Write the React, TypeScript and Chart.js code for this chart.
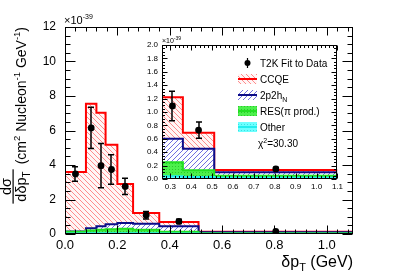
import React, { useEffect, useRef } from "react";
import { Chart, registerables } from "chart.js";

Chart.register(...registerables);

// ---------------- data (units of 1e-39 cm^2 / nucleon / GeV) ----------------
const binEdges = [0, 0.08, 0.12, 0.155, 0.2, 0.26, 0.36, 0.51, 1.1];
// stacked histogram levels as drawn (top of each component)
const ccqeTop = [3.6, 7.55, 7.03, 5.18, 2.9, 1.22, 0.69, 0.135];
const twoP2hTop = [0.15, 0.33, 0.45, 0.57, 0.64, 0.6, 0.45, 0.1];
const resTop = [0.13, 0.2, 0.24, 0.28, 0.3, 0.25, 0.13, 0.05];
const otherTop = [0.03, 0.04, 0.05, 0.05, 0.05, 0.04, 0.03, 0.02];

const dataX = [0.04, 0.1, 0.1375, 0.1775, 0.23, 0.31, 0.435, 0.805];
const dataY = [3.48, 6.15, 3.96, 3.74, 2.76, 1.09, 0.73, 0.15];
const dataErr = [0.42, 1.2, 1.28, 0.86, 0.47, 0.22, 0.12, 0.02];

const mainXTicks = [0, 0.2, 0.4, 0.6, 0.8, 1.0];
const mainYTicks = [0, 2, 4, 6, 8, 10, 12];
const insetXTicks = [0.3, 0.4, 0.5, 0.6, 0.7, 0.8, 0.9, 1.0, 1.1];
const insetYTicks = [0, 0.2, 0.4, 0.6, 0.8, 1.0, 1.2, 1.4, 1.6, 1.8, 2.0];

const legendLabels = ["T2K Fit to Data", "CCQE", "2p2h", "RES(\u03c0 prod.)", "Other"];
const chi2Value = "30.30";

const FONT = "'Liberation Sans', Arial, Helvetica, sans-serif";

// ---------------- helpers ----------------
function histPoints(levels: number[]) {
  return binEdges.map((e, i) => ({ x: e, y: levels[Math.min(i, levels.length - 1)] }));
}

function hatchPattern(bg: string, fg: string, dir: number, size: number, lw: number) {
  const c = document.createElement("canvas");
  c.width = size;
  c.height = size;
  const g = c.getContext("2d")!;
  g.fillStyle = bg;
  g.fillRect(0, 0, size, size);
  g.strokeStyle = fg;
  g.lineWidth = lw;
  g.beginPath();
  for (const o of [-size, 0, size]) {
    if (dir > 0) {
      g.moveTo(o, size);
      g.lineTo(o + size, 0);
    } else {
      g.moveTo(o, 0);
      g.lineTo(o + size, size);
    }
  }
  g.stroke();
  return g.createPattern(c, "repeat")!;
}

function dotPattern(bg: string, fg: string) {
  const c = document.createElement("canvas");
  c.width = 3;
  c.height = 3;
  const g = c.getContext("2d")!;
  g.fillStyle = bg;
  g.fillRect(0, 0, 3, 3);
  g.fillStyle = fg;
  g.fillRect(0, 0, 1, 1);
  return g.createPattern(c, "repeat")!;
}

type Styles = {
  redFill: CanvasPattern;
  blueFill: CanvasPattern;
  greenFill: CanvasPattern;
  cyanFill: CanvasPattern;
};

const RED = "#ff0000";
const BLUE = "#0c0c88";
const GREEN = "#22e022";
const CYAN = "#22eeee";

function makeStyles(): Styles {
  return {
    redFill: hatchPattern("#fff6f6", "#ff8c8c", -1, 5, 1),
    blueFill: hatchPattern("#ffffff", "#7070e0", 1, 5, 1),
    greenFill: dotPattern("#4cf04c", "#2cc82c"),
    cyanFill: dotPattern("#6cffff", "#3ce0e0"),
  };
}

function datasets(st: Styles) {
  const hist = (levels: number[], color: string, fill: any) => ({
    type: "scatter" as const,
    data: histPoints(levels),
    showLine: true,
    stepped: true,
    borderColor: color,
    borderWidth: 2,
    backgroundColor: fill,
    fill: "origin",
    pointRadius: 0,
    clip: 0,
  });
  return [
    {
      type: "scatter" as const,
      data: dataX.map((x, i) => ({ x, y: dataY[i] })),
      pointRadius: 3.4,
      pointBackgroundColor: "#000",
      pointBorderColor: "#000",
      pointBorderWidth: 0,
      showLine: false,
      clip: 0,
    },
    hist(otherTop, CYAN, st.cyanFill),
    hist(resTop, GREEN, st.greenFill),
    hist(twoP2hTop, BLUE, st.blueFill),
    hist(ccqeTop, RED, st.redFill),
  ];
}

type FrameCfg = {
  xMajor: number;
  xMinor: number;
  yMajor: number;
  yMinor: number;
  xMajLen: number;
  xMinLen: number;
  yMajLen: number;
  yMinLen: number;
  cap: number;
};

function isMult(v: number, step: number) {
  const r = v / step;
  return Math.abs(r - Math.round(r)) < 1e-6;
}

function framePlugin(cfg: FrameCfg) {
  return {
    id: "rootFrame",
    afterDatasetsDraw(chart: any) {
      const { ctx, chartArea: a } = chart;
      const xs = chart.scales.x;
      const ys = chart.scales.y;
      // error bars
      ctx.save();
      ctx.beginPath();
      ctx.rect(a.left, a.top, a.right - a.left, a.bottom - a.top);
      ctx.clip();
      ctx.strokeStyle = "#000";
      ctx.lineWidth = 1.5;
      ctx.beginPath();
      dataX.forEach((x, i) => {
        const px = Math.round(xs.getPixelForValue(x));
        const y1 = ys.getPixelForValue(dataY[i] + dataErr[i]);
        const y2 = ys.getPixelForValue(dataY[i] - dataErr[i]);
        ctx.moveTo(px, y1);
        ctx.lineTo(px, y2);
        ctx.moveTo(px - cfg.cap, y1);
        ctx.lineTo(px + cfg.cap, y1);
        ctx.moveTo(px - cfg.cap, y2);
        ctx.lineTo(px + cfg.cap, y2);
      });
      ctx.stroke();
      ctx.restore();
    },
    afterDraw(chart: any) {
      const { ctx, chartArea: a } = chart;
      const xs = chart.scales.x;
      const ys = chart.scales.y;
      ctx.save();
      ctx.strokeStyle = "#000";
      ctx.lineWidth = 1;
      const L = Math.round(a.left) + 0.5;
      const R = Math.round(a.right) - 0.5;
      const T = Math.round(a.top) + 0.5;
      const B = Math.round(a.bottom) - 0.5;
      ctx.strokeRect(L, T, R - L, B - T);
      ctx.beginPath();
      const x0 = Math.ceil(xs.min / cfg.xMinor - 1e-6) * cfg.xMinor;
      for (let v = x0; v <= xs.max + 1e-9; v += cfg.xMinor) {
        const px = Math.round(xs.getPixelForValue(v)) + 0.5;
        const len = isMult(v, cfg.xMajor) ? cfg.xMajLen : cfg.xMinLen;
        ctx.moveTo(px, B);
        ctx.lineTo(px, B - len);
        ctx.moveTo(px, T);
        ctx.lineTo(px, T + len);
      }
      const y0 = Math.ceil(ys.min / cfg.yMinor - 1e-6) * cfg.yMinor;
      for (let v = y0; v <= ys.max + 1e-9; v += cfg.yMinor) {
        const py = Math.round(ys.getPixelForValue(v)) + 0.5;
        const len = isMult(v, cfg.yMajor) ? cfg.yMajLen : cfg.yMinLen;
        ctx.moveTo(L, py);
        ctx.lineTo(L + len, py);
        ctx.moveTo(R, py);
        ctx.lineTo(R - len, py);
      }
      ctx.stroke();
      ctx.restore();
    },
  };
}

// draws a run of text pieces; each piece: [text, size, dy]
function drawRun(ctx: CanvasRenderingContext2D, pieces: [string, number, number][], x: number, y: number) {
  let cx = x;
  for (const [t, s, dy] of pieces) {
    ctx.font = `${s}px ${FONT}`;
    ctx.fillText(t, cx, y + dy);
    cx += ctx.measureText(t).width;
  }
  return cx;
}
function runWidth(ctx: CanvasRenderingContext2D, pieces: [string, number, number][]) {
  let w = 0;
  for (const [t, s] of pieces) {
    ctx.font = `${s}px ${FONT}`;
    w += ctx.measureText(t).width;
  }
  return w;
}

const mainTextPlugin = {
  id: "mainText",
  afterDraw(chart: any) {
    const { ctx, chartArea: a } = chart;
    ctx.save();
    ctx.fillStyle = "#000";
    ctx.textBaseline = "alphabetic";
    ctx.textAlign = "left";
    // exponent label
    drawRun(ctx, [["\u00d710", 11, 0], ["-39", 7, -5]], a.left - 1, 24);
    // x title, right-aligned
    const xt: [string, number, number][] = [["\u03b4p", 16, 0], ["T", 11, 4], [" (GeV)", 16, 0]];
    const xw = runWidth(ctx, xt);
    drawRun(ctx, xt, a.right - xw, 267);
    // y title (rotated), right-aligned to the top of the frame
    const ffs = 14.5;
    const fs = 14;
    const den: [string, number, number][] = [["d\u03b4p", ffs, 0], ["T", 10, 4]];
    const num: [string, number, number][] = [["d\u03c3", ffs, 0]];
    const rest: [string, number, number][] = [
      ["(cm", fs, 0],
      ["2", 9.5, -6],
      [" Nucleon", fs, 0],
      ["-1", 9.5, -6],
      [" GeV", fs, 0],
      ["-1", 9.5, -6],
      [")", fs, 0],
    ];
    const dw = runWidth(ctx, den);
    const nw = runWidth(ctx, num);
    const fw = Math.max(dw, nw) + 4;
    const gap = 5;
    const total = fw + gap + runWidth(ctx, rest);
    ctx.translate(26, a.top + total);
    ctx.rotate(-Math.PI / 2);
    drawRun(ctx, den, (fw - dw) / 2, 0);
    drawRun(ctx, num, (fw - nw) / 2, -15);
    ctx.fillRect(0, -13.5, fw, 1.2);
    drawRun(ctx, rest, fw + gap, 0);
    ctx.restore();
  },
};

const insetTextPlugin = (st: Styles) => ({
  id: "insetText",
  afterDraw(chart: any) {
    const { ctx, chartArea: a } = chart;
    const ox = -130;
    const oy = -28;
    ctx.save();
    ctx.fillStyle = "#000";
    ctx.textBaseline = "alphabetic";
    ctx.textAlign = "left";
    drawRun(ctx, [["\u00d710", 7, 0], ["-39", 5, -3]], a.left, a.top - 2);
    // legend
    const bx = 238 + ox;
    const bw = 19;
    const tx = 260 + ox;
    const rows = [63, 79, 95, 111, 127, 143].map((r) => r + oy);
    // row 0: data marker
    ctx.strokeStyle = "#000";
    ctx.lineWidth = 1.2;
    ctx.beginPath();
    ctx.moveTo(bx + bw / 2, rows[0] - 5);
    ctx.lineTo(bx + bw / 2, rows[0] + 5);
    ctx.stroke();
    ctx.beginPath();
    ctx.arc(bx + bw / 2, rows[0], 3, 0, Math.PI * 2);
    ctx.fill();
    const boxes: [CanvasPattern, string][] = [
      [st.redFill, RED],
      [st.blueFill, BLUE],
      [st.greenFill, GREEN],
      [st.cyanFill, CYAN],
    ];
    boxes.forEach(([fill, col], i) => {
      const cy = rows[i + 1];
      ctx.fillStyle = fill;
      ctx.fillRect(bx, cy - 5, bw, 10);
      ctx.strokeStyle = col;
      ctx.lineWidth = 2;
      ctx.beginPath();
      ctx.moveTo(bx, cy);
      ctx.lineTo(bx + bw, cy);
      ctx.stroke();
    });
    ctx.fillStyle = "#000";
    const base = (r: number) => r + 3.5;
    drawRun(ctx, [[legendLabels[0], 10, 0]], tx, base(rows[0]));
    drawRun(ctx, [[legendLabels[1], 10, 0]], tx, base(rows[1]));
    drawRun(ctx, [[legendLabels[2], 10, 0], ["N", 7, 3]], tx, base(rows[2]));
    drawRun(ctx, [[legendLabels[3], 10, 0]], tx, base(rows[3]));
    drawRun(ctx, [[legendLabels[4], 10, 0]], tx, base(rows[4]));
    drawRun(ctx, [["\u03c7", 10, 0], ["2", 7, -4], ["=" + chi2Value, 10, 0]], 258 + ox, base(rows[5]));
    ctx.restore();
  },
});

function axisOpts(ticks: number[], min: number, max: number, size: number, pad: number, fmt: (v: number) => string, fit: (s: any) => void) {
  return {
    type: "linear" as const,
    min,
    max,
    grid: { display: false, drawTicks: false },
    border: { display: false },
    afterBuildTicks: (s: any) => {
      s.ticks = ticks.map((v) => ({ value: v }));
    },
    afterFit: fit,
    ticks: {
      autoSkip: false,
      maxRotation: 0,
      padding: pad,
      color: "#000",
      font: { family: FONT, size },
      callback: (v: any) => fmt(Number(v)),
    },
  };
}

export default function App() {
  const mainRef = useRef<HTMLCanvasElement>(null);
  const insetRef = useRef<HTMLCanvasElement>(null);

  useEffect(() => {
    const st = makeStyles();
    const main = new Chart(mainRef.current!, {
      type: "scatter",
      data: { datasets: datasets(st) as any },
      options: {
        animation: false,
        responsive: false,
        maintainAspectRatio: false,
        devicePixelRatio: 1,
        layout: { padding: { left: 0, top: 27, right: 54, bottom: 0 } },
        plugins: { legend: { display: false }, tooltip: { enabled: false } },
        scales: {
          x: axisOpts(mainXTicks, 0, 1.1, 13, 4, (v) => v.toFixed(1), (s) => (s.height = 42)),
          y: axisOpts(mainYTicks, 0, 12, 12, 9, (v) => String(v), (s) => (s.width = 65)),
        },
      } as any,
      plugins: [
        framePlugin({ xMajor: 0.2, xMinor: 0.04, yMajor: 2, yMinor: 0.5, xMajLen: 8, xMinLen: 4, yMajLen: 10, yMinLen: 5, cap: 3 }),
        mainTextPlugin,
      ],
    });
    const inset = new Chart(insetRef.current!, {
      type: "scatter",
      data: { datasets: datasets(st) as any },
      options: {
        animation: false,
        responsive: false,
        maintainAspectRatio: false,
        devicePixelRatio: 1,
        layout: { padding: { left: 0, top: 17, right: 4, bottom: 0 } },
        plugins: { legend: { display: false }, tooltip: { enabled: false } },
        scales: {
          x: axisOpts(insetXTicks, 0.26, 1.1, 8, 3, (v) => v.toFixed(1), (s) => (s.height = 19)),
          y: axisOpts(insetYTicks, 0, 2.0, 8, 4, (v) => v.toFixed(1), (s) => (s.width = 32)),
        },
      } as any,
      plugins: [
        framePlugin({ xMajor: 0.1, xMinor: 0.02, yMajor: 0.2, yMinor: 0.05, xMajLen: 5, xMinLen: 2.5, yMajLen: 5, yMinLen: 2.5, cap: 3 }),
        insetTextPlugin(st),
      ],
    });
    return () => {
      main.destroy();
      inset.destroy();
    };
  }, []);

  return (
    <div style={{ position: "absolute", left: 0, top: 0, width: 407, height: 276, background: "#fff" }}>
      <canvas ref={mainRef} width={407} height={276} style={{ position: "absolute", left: 0, top: 0, width: 407, height: 276 }} />
      <canvas ref={insetRef} width={216} height={170} style={{ position: "absolute", left: 130, top: 28, width: 216, height: 170 }} />
    </div>
  );
}
